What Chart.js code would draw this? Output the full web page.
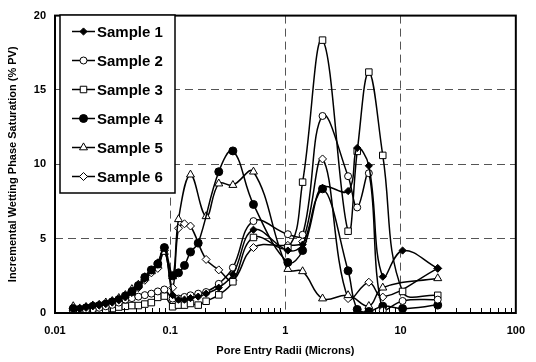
<!DOCTYPE html>
<html>
<head>
<meta charset="utf-8">
<script src="https://cdn.jsdelivr.net/npm/chart.js@4.4.0/dist/chart.umd.min.js"></script>
<style>
    html, body { margin: 0; padding: 0; background: #fff; }
</style>
</head>
<body>
<canvas id="chart" width="536" height="362"></canvas>
<script>
// Pore entry radii (microns), shared by all samples
const radii = [0.0144, 0.0164, 0.0186, 0.0213, 0.0242, 0.0276, 0.0314, 0.0358, 0.0408, 0.0465,
    0.0529, 0.0602, 0.0686, 0.078, 0.089, 0.105, 0.118, 0.133, 0.15, 0.175, 0.205, 0.264, 0.35,
    0.528, 1.05, 1.41, 2.1, 3.5, 4.2, 5.3, 7.0, 10.4, 21];

// Incremental wetting phase saturation (% PV), null = no reading at that radius
const sample1 = [0.2, 0.25, 0.35, 0.45, 0.5, 0.6, 0.7, 0.85, 1.05, 1.35, 1.75, 2.3, 2.9, 3.4, 4.4,
    1.2, 0.9, 0.9, 1.0, 1.1, 1.3, 1.7, 2.6, 5.6, 4.2, 4.6, 8.4, 8.2, 11.1, 9.9, 2.44, 4.2, 3.0];
const sample2 = [0.1, 0.15, 0.2, 0.25, 0.35, 0.45, 0.55, 0.7, 0.9, 1.0, 1.1, 1.2, 1.3, 1.45, 1.58,
    0.97, 0.97, 1.08, 1.19, 1.3, 1.41, 1.96, 3.05, 6.18, 5.3, 5.26, 13.25, 9.2, 7.1, 9.4, 0.15, 0.81, 0.9];
const sample3 = [0.05, 0.05, 0.1, 0.1, 0.15, 0.2, 0.3, 0.4, 0.45, 0.5, 0.5, 0.6, 0.7, 1.05, 1.14,
    0.42, 0.53, 0.53, 0.64, 0.53, 0.79, 1.22, 2.1, 5.08, 4.4, 8.8, 18.35, 5.5, 10.87, 16.2, 10.6, 1.45, 1.19];
const sample4 = [0.3, 0.25, 0.35, 0.45, 0.5, 0.6, 0.75, 0.9, 1.15, 1.45, 1.85, 2.4, 2.9, 3.3, 4.4,
    2.5, 2.7, 3.2, 4.1, 4.7, null, 9.5, 10.9, 7.3, 3.4, 4.2, 8.35, 2.84, 0.24, 0.1, 0.46, 0.3, 0.53];
const sample5 = [0.45, 0.3, 0.4, 0.5, 0.55, 0.7, 0.8, 1.0, 1.2, 1.6, 1.9, 2.4, 2.8, 3.2, 4.1,
    2.46, 6.3, null, 9.3, null, 6.5, 8.7, 8.6, 9.5, 2.95, 2.8, 0.97, 1.19, null, 0.46, 1.7, null, 2.33];
const sample6 = [0.15, 0.2, 0.3, 0.35, 0.45, 0.55, 0.65, 0.8, 1.0, 1.3, 1.7, 2.2, 2.7, 3.0, 4.2,
    1.7, 5.7, 6.0, 5.85, null, 3.6, 2.9, 2.2, 4.4, 4.55, 4.8, 10.36, 0.97, null, 2.07, 1.07, null, 3.0];

const seriesNames = ['Sample 1', 'Sample 2', 'Sample 3', 'Sample 4', 'Sample 5', 'Sample 6'];
const xTicks = [0.01, 0.1, 1, 10, 100];

const FONT = "Arial, 'Liberation Sans', Helvetica, sans-serif";

// marker look per sample
const markers = [
    { style: 'rectRot', radius: 3.6, fill: '#000' },
    { style: 'circle', radius: 3.5, fill: '#fff' },
    { style: 'rect', radius: 4.6, fill: '#fff' },
    { style: 'circle', radius: 4, fill: '#000' },
    { style: 'triangle', radius: 4.6, fill: '#fff' },
    { style: 'rectRot', radius: 4, fill: '#fff' }
];

function toPoints(values) {
    return radii.map((r, i) => ({ x: r, y: values[i] }));
}

const allValues = [sample1, sample2, sample3, sample4, sample5, sample6];

const datasets = allValues.map((vals, i) => ({
    label: seriesNames[i],
    data: toPoints(vals),
    borderColor: '#000',
    borderWidth: 1.5,
    tension: 0.4,
    spanGaps: true,
    pointStyle: markers[i].style,
    pointRadius: markers[i].radius,
    pointBackgroundColor: markers[i].fill,
    pointBorderColor: '#000',
    pointBorderWidth: 1
}));

// Box legend with line + marker samples, like the original
const boxLegend = {
    id: 'boxLegend',
    afterDraw(chart) {
        const ctx = chart.ctx;
        ctx.save();
        ctx.fillStyle = '#fff';
        ctx.fillRect(60, 15, 115, 178);
        ctx.strokeStyle = '#000';
        ctx.lineWidth = 1.5;
        ctx.strokeRect(60, 15, 115, 178);
        chart.data.datasets.forEach((ds, i) => {
            const y = 31.5 + i * 29;
            ctx.strokeStyle = '#000';
            ctx.lineWidth = 1.5;
            ctx.beginPath();
            ctx.moveTo(72, y);
            ctx.lineTo(95, y);
            ctx.stroke();
            ctx.fillStyle = markers[i].fill;
            ctx.lineWidth = 1;
            Chart.helpers.drawPoint(ctx, { pointStyle: markers[i].style, radius: markers[i].radius, borderWidth: 1, rotation: 0 }, 83.5, y);
            ctx.fillStyle = '#000';
            ctx.font = 'bold 15px ' + FONT;
            ctx.textBaseline = 'middle';
            ctx.textAlign = 'left';
            ctx.fillText(ds.label, 97, y + 1);
        });
        ctx.restore();
    }
};

// Plot frame and minor ticks on the log axis
const frame = {
    id: 'frame',
    afterDatasetsDraw(chart) {
        const ctx = chart.ctx;
        const a = chart.chartArea;
        const xs = chart.scales.x;
        ctx.save();
        ctx.strokeStyle = '#000';
        ctx.lineWidth = 1;
        for (let d = 0; d < xTicks.length - 1; d++) {
            for (let k = 2; k < 10; k++) {
                const px = Math.round(xs.getPixelForValue(xTicks[d] * k)) + 0.5;
                ctx.beginPath();
                ctx.moveTo(px, a.bottom);
                ctx.lineTo(px, a.bottom - 5);
                ctx.stroke();
            }
        }
        ctx.lineWidth = 2;
        ctx.strokeRect(a.left, a.top, a.right - a.left, a.bottom - a.top);
        ctx.restore();
    }
};

const gridColor = (ends) => (c) => {
    const v = c.tick ? c.tick.value : null;
    return ends.includes(v) ? 'rgba(0,0,0,0)' : '#555';
};

new Chart(document.getElementById('chart'), {
    type: 'line',
    data: { datasets: datasets },
    options: {
        responsive: false,
        animation: false,
        layout: { padding: { top: 10, right: 13, left: 0, bottom: 0 } },
        plugins: {
            legend: { display: false },
            tooltip: { enabled: false }
        },
        scales: {
            x: {
                type: 'logarithmic',
                min: 0.01,
                max: 100,
                afterBuildTicks: (scale) => { scale.ticks = xTicks.map(v => ({ value: v })); },
                afterFit: (scale) => { scale.height = 49; },
                ticks: {
                    callback: (v) => String(v),
                    autoSkip: false,
                    maxRotation: 0,
                    padding: 11,
                    color: '#000',
                    font: { family: FONT, size: 11, weight: 'bold' }
                },
                grid: { color: gridColor([0.01, 100]), lineWidth: 1, drawTicks: false },
                border: { display: false, dash: [8, 5] },
                title: {
                    display: true,
                    text: 'Pore Entry Radii (Microns)',
                    color: '#000',
                    font: { family: FONT, size: 11, weight: 'bold' },
                    padding: { top: 0, bottom: 4 }
                }
            },
            y: {
                min: 0,
                max: 20,
                afterFit: (scale) => { scale.width = 55; },
                ticks: {
                    stepSize: 5,
                    padding: 9,
                    color: '#000',
                    font: { family: FONT, size: 11, weight: 'bold' }
                },
                grid: { color: gridColor([0, 20]), lineWidth: 1, drawTicks: false },
                border: { display: false, dash: [8, 5] },
                title: {
                    display: true,
                    text: 'Incremental Wetting Phase Saturation (% PV)',
                    color: '#000',
                    font: { family: FONT, size: 11, weight: 'bold' },
                    padding: { top: 6, bottom: 0 }
                }
            }
        }
    },
    plugins: [frame, boxLegend]
});
</script>
</body>
</html>
